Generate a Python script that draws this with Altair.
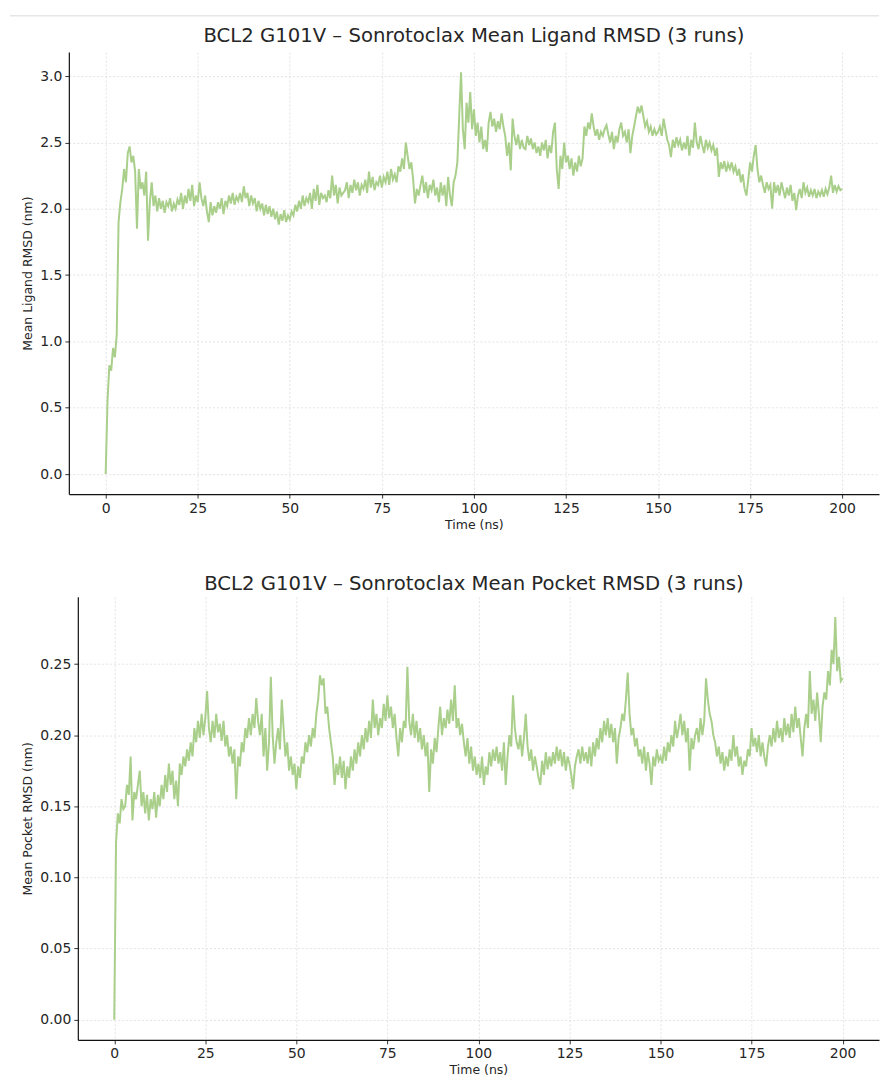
import altair as alt
import pandas as pd

ligand_rmsd = [
    0.00, 0.55, 0.82, 0.78, 0.95, 0.88, 1.05, 1.90, 2.05, 2.15,
    2.30, 2.20, 2.42, 2.47, 2.35, 2.40, 2.28, 1.85, 2.30, 2.15,
    2.20, 2.10, 2.28, 1.76, 2.05, 2.20, 2.02, 2.10, 1.98, 2.08,
    2.00, 2.06, 1.97, 2.05, 2.02, 2.08, 1.98, 2.04, 2.00, 2.07,
    2.03, 2.12, 2.00, 2.10, 2.04, 2.15, 2.06, 2.18, 2.02, 2.10,
    2.05, 2.20, 2.08, 2.02, 2.10, 1.98, 1.90, 2.05, 1.95, 2.02,
    1.97, 2.05, 2.00, 2.08, 1.96, 2.06, 2.02, 2.10, 2.04, 2.12,
    2.03, 2.09, 2.06, 2.12, 2.05, 2.17, 2.08, 2.12, 2.02, 2.10,
    2.04, 2.08, 1.98, 2.06, 2.00, 2.04, 1.95, 2.03, 1.96, 2.02,
    1.94, 2.00, 1.92, 1.98, 1.88, 1.96, 1.91, 1.99, 1.90, 1.95,
    1.92, 1.98, 1.95, 2.03, 1.98, 2.06, 2.00, 2.10, 2.02, 2.08,
    2.05, 2.12, 2.00, 2.15, 2.06, 2.18, 2.03, 2.12, 2.08, 2.10,
    2.05, 2.14, 2.08, 2.25, 2.10, 2.18, 2.04, 2.16, 2.10, 2.12,
    2.14, 2.20, 2.08, 2.18, 2.12, 2.22, 2.14, 2.20, 2.10, 2.18,
    2.15, 2.22, 2.12, 2.28, 2.16, 2.24, 2.14, 2.20, 2.18, 2.25,
    2.16, 2.24, 2.20, 2.28, 2.18, 2.30, 2.22, 2.26, 2.20, 2.32,
    2.28, 2.38, 2.30, 2.50, 2.40, 2.30, 2.35, 2.22, 2.04, 2.15,
    2.10, 2.18, 2.25, 2.12, 2.20, 2.08, 2.18, 2.14, 2.22, 2.10,
    2.16, 2.05, 2.20, 2.10, 2.18, 2.02, 2.24, 2.10, 2.02, 2.20,
    2.25, 2.35, 2.70, 3.03, 2.60, 2.45, 2.80, 2.65, 2.88, 2.60,
    2.75, 2.55, 2.65, 2.50, 2.62, 2.45, 2.52, 2.43, 2.65, 2.73,
    2.62, 2.68, 2.58, 2.66, 2.60, 2.72, 2.62, 2.55, 2.40, 2.50,
    2.29, 2.68, 2.55, 2.48, 2.56, 2.45, 2.52, 2.46, 2.45, 2.55,
    2.48, 2.53, 2.45, 2.50, 2.42, 2.47, 2.40, 2.50, 2.44, 2.52,
    2.38, 2.48, 2.42, 2.58, 2.65, 2.30, 2.15, 2.40, 2.30, 2.50,
    2.35, 2.40, 2.30, 2.38, 2.25, 2.35, 2.28, 2.40, 2.32, 2.38,
    2.62, 2.55, 2.65, 2.60, 2.72, 2.62, 2.55, 2.60, 2.52, 2.58,
    2.55, 2.60, 2.63, 2.56, 2.50, 2.58, 2.45, 2.55, 2.50, 2.60,
    2.65, 2.55, 2.58, 2.50, 2.60, 2.42, 2.55, 2.62, 2.70, 2.77,
    2.72, 2.78, 2.70, 2.62, 2.66, 2.58, 2.62, 2.55, 2.60, 2.56,
    2.58, 2.62, 2.55, 2.68, 2.60, 2.52, 2.48, 2.39, 2.52, 2.46,
    2.54, 2.48, 2.52, 2.44, 2.50, 2.45, 2.55, 2.40, 2.52, 2.46,
    2.65, 2.50, 2.45, 2.55, 2.48, 2.42, 2.52, 2.46, 2.50, 2.44,
    2.48, 2.40, 2.46, 2.24, 2.35, 2.30, 2.36, 2.28, 2.34, 2.30,
    2.35, 2.28, 2.32, 2.25, 2.30, 2.20, 2.26, 2.15, 2.10, 2.22,
    2.35, 2.28, 2.40, 2.48, 2.30, 2.20, 2.25, 2.18, 2.12, 2.20,
    2.15, 2.18, 2.00, 2.20, 2.12, 2.18, 2.10, 2.20, 2.14, 2.08,
    2.16, 2.10, 2.18, 2.06, 2.12, 1.99, 2.10, 2.15, 2.08, 2.20,
    2.12, 2.16, 2.09, 2.14, 2.10, 2.15, 2.08, 2.13, 2.10, 2.14,
    2.09, 2.15, 2.11, 2.16, 2.25, 2.12, 2.18, 2.13, 2.17, 2.14,
    2.15,
]

pocket_rmsd = [
    0.000, 0.125, 0.145, 0.138, 0.155, 0.148, 0.150, 0.165, 0.158, 0.185,
    0.140, 0.160, 0.155, 0.165, 0.175, 0.150, 0.160, 0.145, 0.158, 0.140,
    0.155, 0.148, 0.160, 0.142, 0.158, 0.150, 0.165, 0.155, 0.172, 0.160,
    0.180, 0.165, 0.175, 0.155, 0.168, 0.150, 0.180, 0.172, 0.185, 0.178,
    0.190, 0.182, 0.195, 0.185, 0.205, 0.195, 0.210, 0.198, 0.215, 0.200,
    0.212, 0.231, 0.205, 0.195, 0.210, 0.198, 0.215, 0.202, 0.208, 0.196,
    0.210, 0.192, 0.200, 0.185, 0.192, 0.180, 0.190, 0.155, 0.185, 0.178,
    0.195, 0.188, 0.205, 0.198, 0.212, 0.200, 0.215, 0.205, 0.226, 0.210,
    0.200, 0.215, 0.185, 0.205, 0.175, 0.195, 0.241, 0.200, 0.180, 0.195,
    0.205, 0.190, 0.225, 0.205, 0.185, 0.195, 0.175, 0.185, 0.172, 0.180,
    0.162, 0.178, 0.170, 0.185, 0.180, 0.195, 0.188, 0.200, 0.192, 0.205,
    0.198, 0.215, 0.225, 0.242, 0.235, 0.240, 0.215, 0.220, 0.205, 0.195,
    0.185, 0.165, 0.180, 0.172, 0.185, 0.170, 0.182, 0.162, 0.178, 0.170,
    0.185, 0.175, 0.190, 0.180, 0.195, 0.185, 0.200, 0.190, 0.205, 0.195,
    0.210, 0.198, 0.225, 0.205, 0.215, 0.200, 0.212, 0.205, 0.222, 0.210,
    0.228, 0.212, 0.220, 0.205, 0.215, 0.198, 0.185, 0.205, 0.195, 0.210,
    0.205, 0.248, 0.210, 0.200, 0.215, 0.198, 0.210, 0.195, 0.205, 0.190,
    0.200, 0.185, 0.195, 0.160, 0.190, 0.180, 0.198, 0.188, 0.205, 0.220,
    0.200, 0.212, 0.205, 0.218, 0.208, 0.225, 0.210, 0.235, 0.205, 0.212,
    0.200, 0.208, 0.195, 0.185, 0.198, 0.180, 0.192, 0.175, 0.185, 0.172,
    0.180, 0.170, 0.185, 0.165, 0.178, 0.172, 0.188, 0.178, 0.190, 0.182,
    0.192, 0.180, 0.188, 0.175, 0.195, 0.165, 0.185, 0.200, 0.192, 0.228,
    0.205, 0.195, 0.190, 0.200, 0.185, 0.198, 0.215, 0.192, 0.182, 0.190,
    0.175, 0.185, 0.178, 0.170, 0.165, 0.182, 0.172, 0.188, 0.176, 0.185,
    0.178, 0.188, 0.180, 0.192, 0.182, 0.190, 0.178, 0.188, 0.175, 0.185,
    0.180, 0.172, 0.162, 0.178, 0.185, 0.190, 0.180, 0.192, 0.182, 0.188,
    0.180, 0.192, 0.178, 0.195, 0.185, 0.198, 0.190, 0.205, 0.195, 0.210,
    0.200, 0.212, 0.198, 0.208, 0.195, 0.205, 0.180, 0.198, 0.205, 0.215,
    0.210, 0.225, 0.244, 0.215, 0.200, 0.205, 0.192, 0.198, 0.185, 0.190,
    0.180, 0.192, 0.175, 0.188, 0.180, 0.165, 0.185, 0.178, 0.190, 0.182,
    0.185, 0.180, 0.192, 0.182, 0.195, 0.188, 0.200, 0.192, 0.210, 0.198,
    0.205, 0.215, 0.200, 0.210, 0.195, 0.205, 0.175, 0.198, 0.190, 0.200,
    0.205, 0.195, 0.212, 0.200, 0.210, 0.240, 0.225, 0.215, 0.210, 0.200,
    0.195, 0.185, 0.192, 0.180, 0.188, 0.175, 0.185, 0.178, 0.190, 0.182,
    0.200, 0.185, 0.192, 0.178, 0.185, 0.172, 0.182, 0.178, 0.190, 0.185,
    0.205, 0.192, 0.198, 0.188, 0.200, 0.185, 0.195, 0.185, 0.178, 0.192,
    0.200, 0.192, 0.205, 0.195, 0.210, 0.198, 0.205, 0.195, 0.212, 0.200,
    0.208, 0.198, 0.215, 0.202, 0.220, 0.205, 0.212, 0.198, 0.185, 0.205,
    0.215, 0.205, 0.245, 0.215, 0.225, 0.210, 0.230, 0.215, 0.195, 0.220,
    0.230, 0.225, 0.245, 0.235, 0.260, 0.250, 0.283, 0.245, 0.255, 0.238,
    0.240,
]

time_ns = [i * 0.5 for i in range(len(ligand_rmsd))]
x_ticks = [0, 25, 50, 75, 100, 125, 150, 175, 200]
ligand_ticks = [0.0, 0.5, 1.0, 1.5, 2.0, 2.5, 3.0]
pocket_ticks = [0.00, 0.05, 0.10, 0.15, 0.20, 0.25]

df_lig = pd.DataFrame({"time": time_ns, "value": ligand_rmsd})
df_poc = pd.DataFrame({"time": time_ns, "value": pocket_rmsd})

LINE = "#a9cf8b"
FONT = "DejaVu Sans"
W = 812


def panel(df, title, ytitle, ydomain, yticks, yfmt, height, x_range, y_offset, t_offset):
    if x_range is not None:
        xscale = alt.Scale(domain=[-10, 210], nice=False, zero=False, range=x_range)
    else:
        xscale = alt.Scale(domain=[-10, 210], nice=False, zero=False)
    line = (
        alt.Chart(df)
        .mark_line(color=LINE, strokeWidth=2, clip=True)
        .encode(
            x=alt.X(
                "time:Q",
                title="Time (ns)",
                scale=xscale,
                axis=alt.Axis(values=x_ticks, format="d"),
            ),
            y=alt.Y(
                "value:Q",
                title=ytitle,
                scale=alt.Scale(domain=ydomain, nice=False, zero=False),
                axis=alt.Axis(values=yticks, format=yfmt, offset=y_offset),
            ),
        )
    )
    return line, dict(
        width=W,
        height=height,
        title=alt.TitleParams(
            title, fontSize=19.7, font=FONT, fontWeight="normal",
            color="#262626", offset=t_offset,
        ),
    )


top_line, top_props = panel(
    df_lig, "BCL2 G101V – Sonrotoclax Mean Ligand RMSD (3 runs)",
    "Mean Ligand RMSD (nm)", [-0.1515, 3.1815], ligand_ticks, ".1f", 443, None, 0, -31)

# faint separator line above the first chart
sep = (
    alt.Chart(pd.DataFrame({"k": [0]}))
    .mark_rule(color="#e6e6e6", strokeWidth=1.5)
    .encode(x=alt.value(-59), x2=alt.value(W), y=alt.value(-36.5))
)
top = alt.layer(top_line, sep).properties(**top_props)

bottom_line, bottom_props = panel(
    df_poc, "BCL2 G101V – Sonrotoclax Mean Pocket RMSD (3 runs)",
    "Mean Pocket RMSD (nm)", [-0.0142, 0.2972], pocket_ticks, ".2f", 444, [9, W], -9, 3)
bottom = bottom_line.properties(**bottom_props)

chart = (
    alt.concat(top, bottom, columns=1, spacing=43)
    .properties(
        background="white",
        padding={"left": 9, "top": 13, "right": 0, "bottom": 0},
    )
    .configure_view(stroke=None)
    .configure_axis(
        labelFont=FONT, titleFont=FONT, labelFontSize=14, titleFontSize=12.5,
        labelColor="#262626", titleColor="#262626", titleFontWeight="normal",
        domainColor="#111111", domainWidth=1.2, tickColor="#333333", tickSize=4,
        gridColor="#dcdcdc", gridDash=[2, 2], gridWidth=0.8,
        labelPadding=3,
    )
    .configure_axisX(titlePadding=3)
    .configure_axisY(titlePadding=5)
)

chart.save("out.html", embed_options={"renderer": "svg", "actions": False})
